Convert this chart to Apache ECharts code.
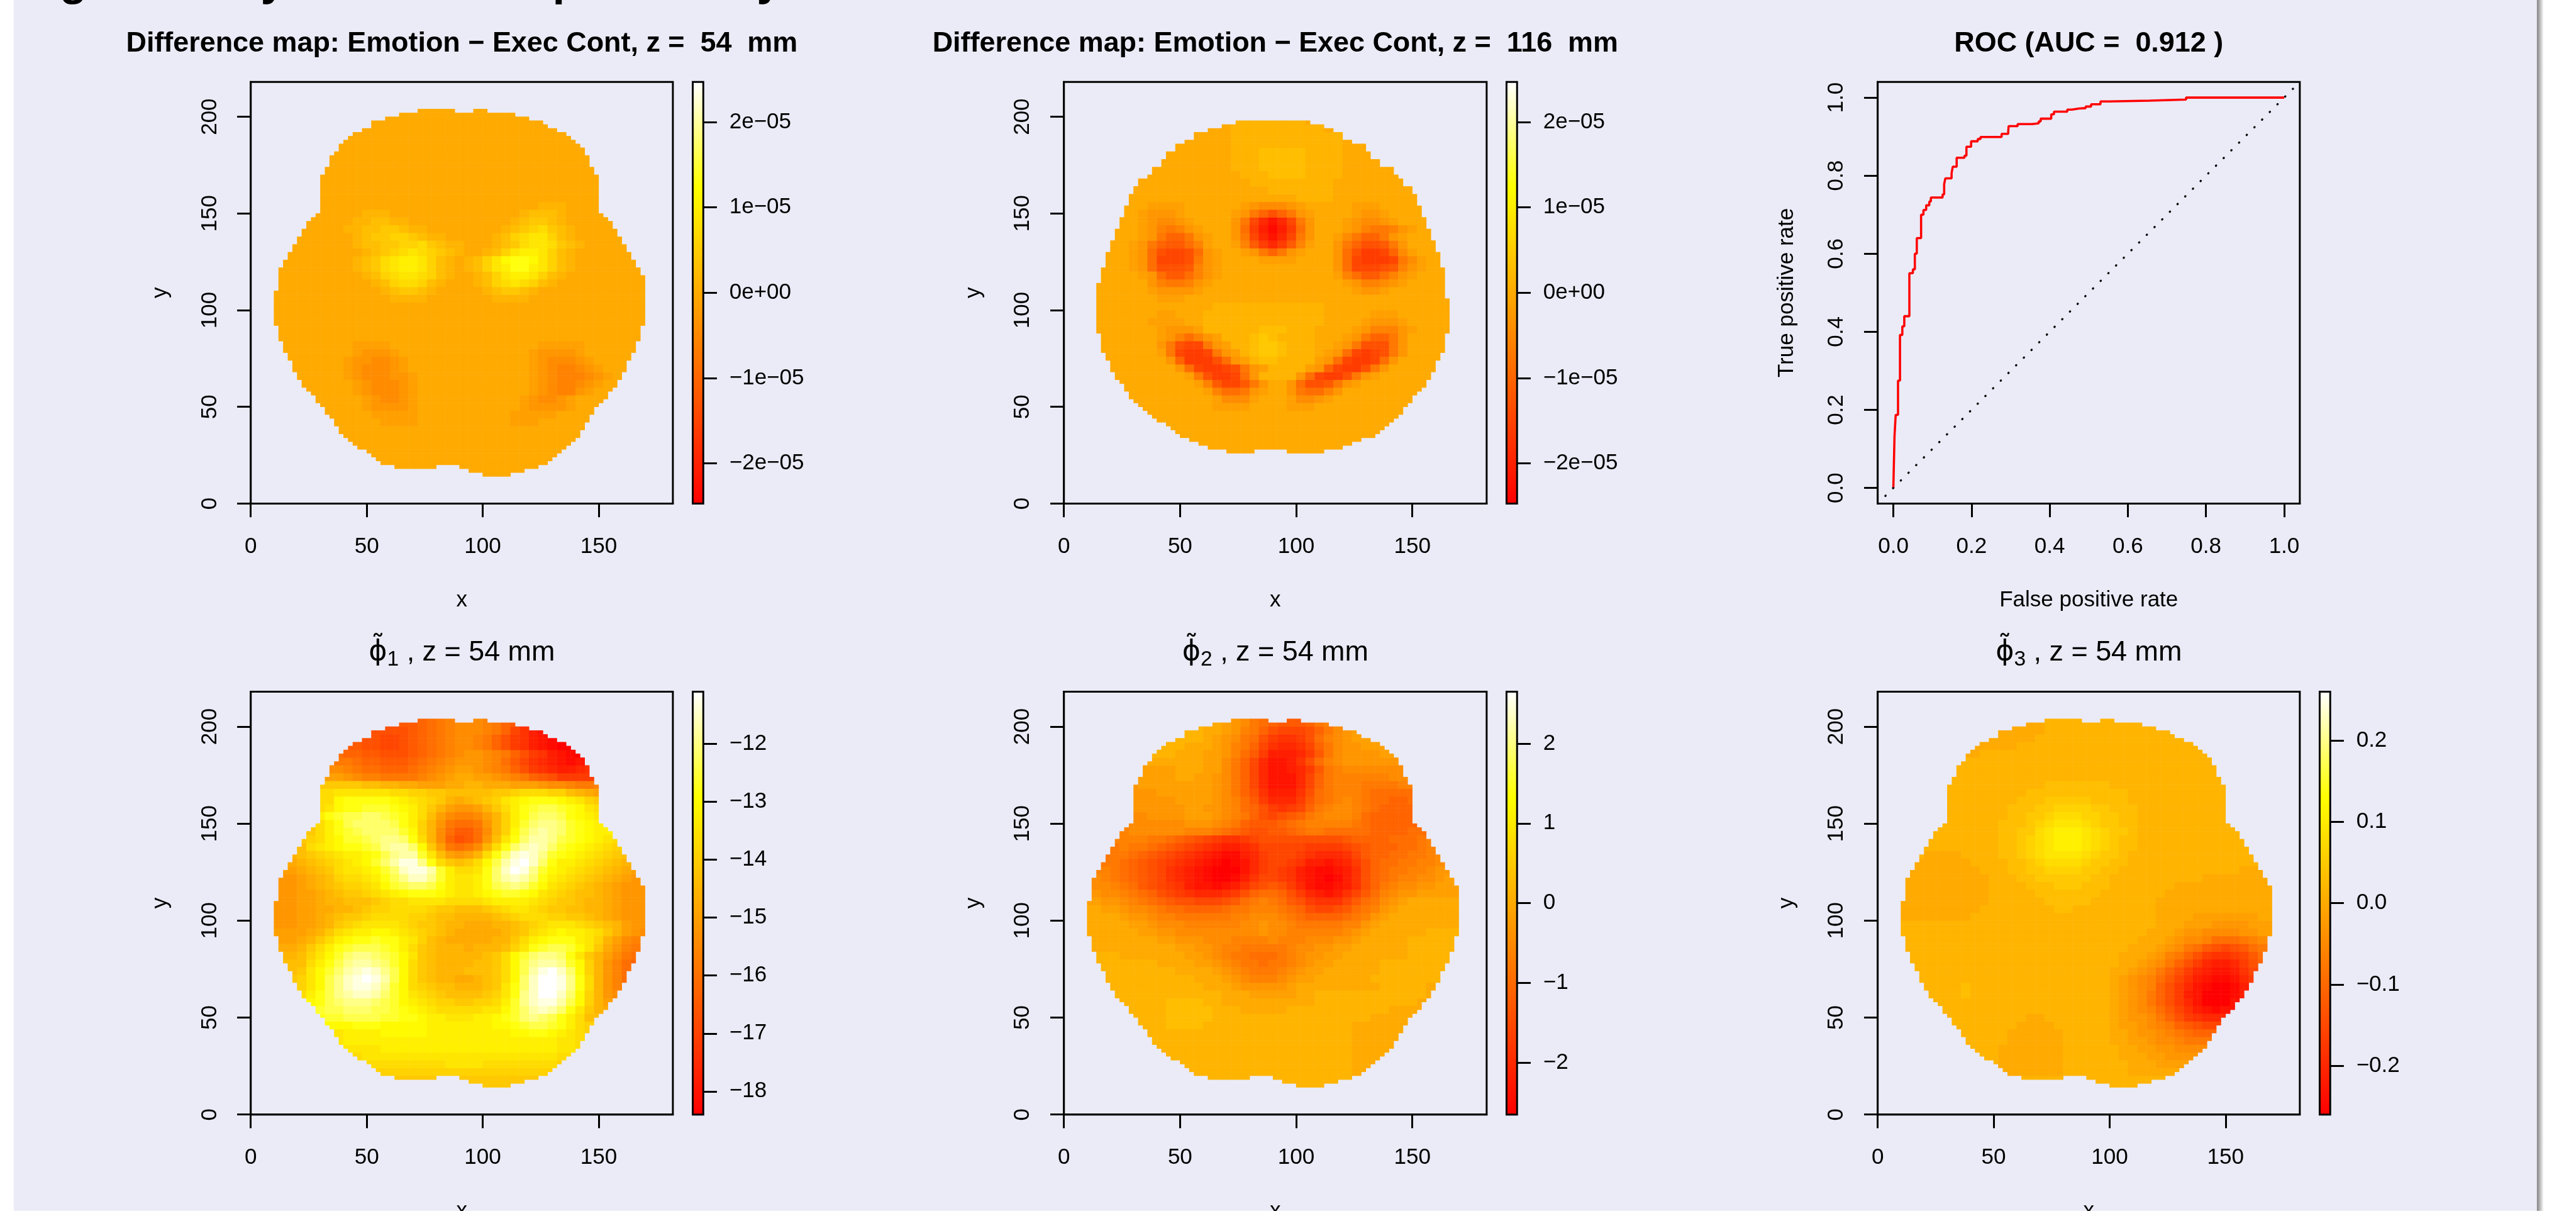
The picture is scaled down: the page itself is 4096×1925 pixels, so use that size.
<!DOCTYPE html>
<html><head><meta charset="utf-8">
<style>html,body{margin:0;padding:0;background:#fff}#c{width:4096px;height:1925px}</style>
<script src="https://cdn.jsdelivr.net/npm/echarts@6/dist/echarts.min.js"></script>
</head><body><div id="c"></div>
<script>
// ---- data: brain outlines, one entry per 2-unit row, [from,to,...] in x units
const brainRowsFromY = 14;
const brainSpans = [[100,112],[94,118],[62,80,90,124],[56,128],[54,130],[52,132],[50,134],[46,135],[44,138],[42,140],[40,142],[38,142],[38,144],[36,144],[36,146],[34,146],[32,148],[32,148],[30,150],[28,152],[28,154],[26,154],[24,156],[22,158],[22,158],[20,160],[20,160],[18,162],[18,162],[18,162],[16,164],[16,164],[14,166],[14,166],[14,166],[12,168],[12,168],[12,168],[12,168],[10,170],[10,170],[10,170],[10,170],[10,170],[10,170],[10,170],[10,170],[10,170],[12,170],[12,170],[12,170],[12,170],[12,168],[12,168],[14,166],[14,166],[16,164],[16,164],[18,162],[18,162],[20,160],[20,160],[22,158],[22,158],[24,156],[24,156],[26,154],[28,152],[30,150],[30,150],[30,150],[30,150],[30,150],[30,150],[30,150],[30,150],[30,150],[30,150],[32,148],[32,148],[34,146],[34,146],[34,146],[36,144],[38,144],[38,142],[40,140],[42,138],[44,136],[48,132],[52,128],[52,126],[58,120],[64,114],[72,88,96,102]];
const eggRowsFromY = 26;
const eggSpans = [[70,82,96,112],[62,120],[58,124],[54,128],[50,134],[48,136],[46,138],[44,140],[40,142],[38,144],[36,146],[34,146],[32,148],[30,150],[28,150],[28,152],[26,154],[26,156],[24,156],[22,158],[22,158],[20,160],[20,160],[20,160],[18,162],[18,162],[16,164],[16,164],[16,164],[16,164],[16,164],[14,166],[14,166],[14,166],[14,166],[14,166],[14,166],[14,166],[14,166],[14,166],[14,164],[14,164],[14,164],[14,164],[16,164],[16,164],[16,164],[16,164],[18,162],[18,162],[18,162],[18,162],[20,160],[20,160],[20,160],[22,158],[22,158],[22,158],[24,156],[24,156],[24,156],[26,154],[26,154],[26,154],[28,152],[28,152],[28,152],[30,150],[30,150],[32,146],[32,146],[36,144],[38,142],[38,142],[42,136],[42,136],[44,132],[44,132],[48,130],[48,130],[52,124],[56,120],[56,120],[62,116],[68,112],[74,106]];

// ---- data: colour levels (0 = bottom of the colour bar, y = top),
// rows from y=204 down to y=12 in steps of 4, columns from x=8 in steps of 4.
const rowsDiff54 = ["","","","","","","","","","","","","",
"hhhhhhhhhhhhhhhhhhhhhhhhhhhhhiii",
"hhhhhhhhhhiiihhhhhhhhhhhhhhijjji",
"hhhhhhhhhiijjiihhhhhhhhhhhijkkji",
"hhhhhhhhiijjkkjiihhhhhhhhijklmkji",
"hhhhhhhhhijkkllkjiihhhhhijlmnnlji",
"hhhhhhhhhijjkkllmkjiihhhijkmnnmkji",
"hhhhhhhhhhijklmnmlkjihhijlnoonlji",
"hhhhhhhhhijkmnoonljihijlnpqqpnlji",
"hhhhhhhhhijkmnoonljihijlnoqqonlji",
"hhhhhhhhhhijlmnnmljihhijlnoonlji",
"hhhhhhhhhhhijlmmljihhhijlmnmlji",
"hhhhhhhhhhhhijkkjihhhhhijkkji",
"hhhhhhhhhhhhhiiiihhhhhhhiiii",
"","","","","",
"hhhhhhhhhgggghhhhhhhhhhhhhhhhgggggh",
"hhhhhhhhhgfffghhhhhhhhhhhhhhgffffg",
"hhhhhhhhgffeefghhhhhhhhhhhhhgfeeefg",
"hhhhhhhhgfeeefghhhhhhhhhhhhhgfeddefg",
"hhhhhhhhgfeeeffghhhhhhhhhhhhgfedddefg",
"hhhhhhhhhgfeeefghhhhhhhhhhhhgfeddefg",
"hhhhhhhhhgfeeefghhhhhhhhhhhhgfeddfg",
"hhhhhhhhhhgfeefghhhhhhhhhhhgfeefg",
"hhhhhhhhhhgffffghhhhhhhhhhhgffffg",
"hhhhhhhhhhhggggghhhhhhhhhhggggg",
"hhhhhhhhhhhhgggghhhhhhhhhhggg",
"","","","","","","",""];

const rowsDiff116 = ["","",
"hhhhhhhhhhhhhhhhiiiiiiii",
"hhhhhhhhhhhhhhhhiiiiiiiiii",
"hhhhhhhhhhhhhhhhiiiiiiiiiiii",
"hhhhhhhhhhhhhhhhiiiiiiiiiiii",
"hhhhhhhhhhhhhhhhiiijjjjjiiii",
"hhhhhhhhhhhhhhhhiiijjjjjiiii",
"hhhhhhhhhhhhhhhhiiijjjjjiiii",
"hhhhhhhhhhhhhhhhhiiijjjjiiii",
"hhhhhhhhhhhhhhhhhhiiiiiiiii",
"hhhhhhhhhhhhhhhhhhhhiiiiiii",
"hhhhhhhhhhhhhhhhhhhhhhhiiii",
"hhhhhhhgggghhhhhhgfeeefghhhhhggg",
"hhhhhhgfffghhhhhgfca8acfghhhhgffg",
"hhhhhhgfeefghhhhfc74247cfhhhgfeefg",
"hhhhhhgfdcdfghhhfb63136bfhhhgfdccdfg",
"hhhhhhgfcaacfghhfc74247cfhhgecaacfg",
"hhhhhgfca99bdghhgd96469dghhfca889cf",
"hhhhhgfb8778bfghhgfcacfghhhfb8667aeg",
"hhhhhgfb7778cfghhhhgggghhhhfb76667ceg",
"hhhhhgfb8889dfghhhhhhhhhhhhfb77789dfg",
"hhhhhhgfb99bdfghhhhhhhhhhhhgdb99bdfg",
"hhhhhhhfdccdfghhhhhhhhhhhhhhgfddefg",
"hhhhhhhgffffghhhhhhhhhhhhhhhhgffg",
"hhhhhhhhggg",
"hhhhhhhhhhhhhhiiiiiiiiiiiihhhh",
"hhhhhhhhgghhhiiiiiiiiiiiiihhhhhggg",
"hhhhhhhgggghhiiiiiiiiiiiiihhhhgfffg",
"hhhhhhhhgfffgiiiiiijjjiiihhhhgfdddfg",
"hhhhhhhhgfdbdfgiiijkjiiiihhhgfcaacf",
"hhhhhhhhfc877cfgiijkkjiiihhgfc888cf",
"hhhhhhhhgc7667cfgijkkjiiihgfb7678cf",
"hhhhhhhhhfa6668bfgijjiiiigfb7667bf",
"hhhhhhhhhhfb76678cfgiiiigfa7668cf",
"hhhhhhhhhhhgc8667bfiiiifb7668cfg",
"hhhhhhhhhhhhgd9779cfhhfb889cfg",
"hhhhhhhhhhhhhgdbbcfghhfcbbdf",
"hhhhhhhhhhhhhhgeeeghhhgeefg",
"hhhhhhhhhhhhhhgggghhhhggg",
"","","","","","","","",""];

const rowsPhi1 = [
"bbbbbbbbbbbbbbbbcccdeeedcba98765432222222",
"9999999999999999abcdeeedca97542222222222",
"9999999999888889abcdeeedca7532100111111111",
"9999999999887789abcdeedca8653210012333333",
"aaaaaaaa99887789abcdeedca8653210012333333",
"bbbbbbbbaa998889abcdeffedca86532101234444",
"cccccccccbaa999abcdefffedb975432123455555",
"eeeeeeeedcbbaaabcdefggfedca86543345666666",
"ggggggggfeddccccdefghhggfedca986666788888",
"kkkkkkkkkkjjiihhggghhiihhhgggfeedccdccccc",
"mmmmmmmnnnnnnmmllkkjjjjjkklmmmlljihgggggg",
"mmmmmmmpqqqqqponmlkihijklnopqqqponlkkkkkk",
"mmmmmmnpqqrrrqpomkigffgikmoqrssrqpnmmmmmm",
"mmmmnoqrssttsrqomjgeddegiloqsttsqponnnnnn",
"lllllmoqsttttsqolifcbbcfilortuutrqpoooooo",
"kkkkkmoqrsttttrplieb99beilpsuvutrqpoooooo",
"jjjklmoprrstuutqmiea89bfjnqtvvusrqponmmmm",
"jjjjmnopqqrsuvvtpkgcbceimqtvwvtrqponmllkk",
"iiijklmnoopqsuvvrnjgfgimqtwxwurqponmlkjjj",
"hhhijklmnoprtvxxuqmkjkmpsvxywtqoonmlkjiii",
"ggghijkmnnoprtwxxvrommnqtwyxurponmlkjihgg",
"fffghijlmmnoqsuwwuronnoqtvwvtqonmlkjihgff",
"fffghijkllmnprsttsqonnoqstutrpnmlkjihgfff",
"fffgghijkklmnopqqqponnopqrrqpnmlkjjihgfff",
"fffgghiijjjklmmnnnnmmmmnoooonmlkkjiihgfff",
"fffgghhiijkllmmmmlkkjjjklmnnmlkkjjiihgfff",
"fffgghijkklmmmmllkjjiiiijklmmmllkkjihgfff",
"fffgghiklmnnnnmlkkjiihhhiijklmnnnmlkjigff",
"gggghikmnoopponmlkjihhhhhijkmnopoonmkigfe",
"ggghikmopqqrqqonljihhhhhiikmopqqqonligedd",
"hhhikmoqrsssrqomkjiiihiiijlnqrssrpnkhfdcc",
"iiijlnprtuutsrpnkjiiiiijkmprtuutqnkigecbb",
"jjjjmoqsuvvutrpmkjiiiijjkmpsuvvurplifdbaa",
"jjjknprtvwxwuspmkjiiijjjkmpsvxywtplifdbaa",
"kkklnpsuwxyxvspmkjiihhijkmptwyyxuqmifdbaa",
"kkklnpsuwxxwurpmlkjjiiijknqtwyyxuqmifdbbb",
"lllmoqsuvwwvtrpnmlkjjjjklnquwyywtplifeddd",
"nnnnpqstuuutsrponmllkkllmoruwxxvspliggggg",
"ooooprsstttssrqponmmmmmnnprtvwvtqnkihhhhh",
"pppppqrrssssrrqqpoonnnoopqrtutsqomjjjjjjj",
"oooooopppqqqpppppoooooooppqrssrqomlllllll",
"nnnnnnnnoooopppppoooooooooppqqponmlllllll",
"nnnnnnnnooooooooooooooooooooooonnmlllllll",
"mmmmmmmmnnnnooooooooooooooooooonnmlkkkkkk",
"mmmmmmmmmmnnnnnnnnnnnnnnnnnnnnnmmlkkkkkkk",
"lllllllllmmmmmmmmmmnnnnmmmmmmmmlllllllll",
"kkkkkkkkklllllllllllllllllllllllllllllll",
"kkkkkkkkkkkkkkkkkkkkkkkkkkkkkkkkkkkkkkkkk",
"kkkkkkkkkkkkkkkkkkkkkkkkkkkkkkkkkkkkkkkkk"];

const rowsPhi2 = [
"iiiiiiiiiiiiihhgfedcbbbbcdeffgggghhhhhhhh",
"iiiiiiiiiiiiihhgfecba999acdefggggghhhhhhh",
"iiiiiiiiiiiiihhgfdca87778acefggggghhhhhhh",
"iiiiiiiiiiiiihgfecb865568bdefggggghhhhhhh",
"iiiiiiiiiiihhhgfdca754457aceffgggghhhhhhh",
"hhhhhhiiiihhhggfdb96333469ceffffggggggggg",
"hhhhhhhhhhhhhggeca7422358bdeffffffggggggg",
"gggggggggghhhggeca74223469cdeeeeeeefffggg",
"ffffffgggghhggfeca7422247acddddddeeeeffgg",
"ffffffggggggggfeca7422247acdddccccdddefgg",
"ffffffffggggggfeca8533358bcdddcbbbbbcdefg",
"eeefffffffggggfedb9644469bcdedcbbaabbcdfg",
"eeeefffffffggffedba86567acdeedcbaaaabcdeg",
"eeeeeeeffffgggfedca8789acdeeedbaaaaabcdef",
"dddeeeeeeeefffedca999abcdddddcbaaaaabcdef",
"ccdddeeeeeedddcba98899abccbbbbbaaaabbcdef",
"cccddddccba987655678888888889aaaabbbcdeff",
"ccccdccba98765433457777766667" + "89aaabbcdeff",
"cccccba98765432" + "11346777654445" + "79aabbccdeff",
"ddccba987654321" + "01246776533234" + "68abbccddeff",
"eddcba987543210" + "00246765321123" + "58abccddeffg",
"eedcba987543210" + "01357765321013" + "58abcddeefgg",
"feedcb987653221" + "23578986421123" + "58acdeeffggg",
"ffeedcba8765444" + "568abba8643235" + "79bdeffggggg",
"ggffedcba988777" + "89bcdcb9865557" + "9bcefghhhhhh",
"hhggfeedcbbaaaa" + "bccdddcba87789" + "bcdfghhhhhhh",
"hhhhgffeddccccc" + "cddeeedcbaaaab" + "cdfghhhhhhhh",
"hhhhhggfeeedddd" + "ddeefeedcccccd" + "dfghhhhhhhhh",
"hhhhhhggffeeeee" + "eeeefeedddddde" + "fghhhhhhiiii",
"hhhhhhhhggfffee" + "eddddedddeeeff" + "ghhhhhiiiiii",
"hhhhhhhhhhggffe" + "ddcccccdeeffgg" + "hhhhhhiiiiii",
"iiiihhhhhhhggfe" + "dccbbbcdeffggh" + "hhhhhhiiiiii",
"iiiiiiiihhhhggf" + "edccbccdefgghh" + "hhhiiiiiiiii",
"iiiiiiiiiihhhhg" + "fedcccdefgghhh" + "hhhiiiiiiiii",
"iiiiiiiiiiiihhh" + "gfedddefgghhhh" + "hhiiiiiiiiii",
"iiiiiiiiiiiiihh" + "hgfffffghhhhhh" + "hhhiiiiihhhh",
"iiiiiiiiiiiiiii" + "hhhggggghhiiii" + "iiiiiiiihhhh",
"iiiiiiiiijjjjii" + "hhhhhhhhhhiiii" + "iiiiiiihhhhh",
"iiiiiiiiijjjjji" + "iihhhhhiiiiiii" + "iiiihhhhhhhh",
"iiiiiiiiijjjjji" + "iiiiiiiiiiiiii" + "iihhhhhhhhhh",
"iiiiiiiiijjjjii" + "iiiiiiiiiiiiii" + "hhhhhhhhhhhh",
"iiiiiiiiiiiiiii" + "iiiiiiiiiiiiii" + "hhhhhhhhhhhh",
"iiiiiiiiiiiiiii" + "iiiiiiiiiiiiii" + "hhhhhhhhhhhh",
"iiiiiiiiiiiiiii" + "iiiiiiiiiiiiii" + "hhhhhhhhhhhh",
"iiiiiiiiiiiiiii" + "iiiiiiiiiiiiii" + "hhhhhhhhhhhh",
"iiiiiiiiiiiiiii" + "iiiiiiiiiiiiii" + "hhhhhhhhhhhh",
"iiiiiiiiiiiiiii" + "iiiiiiiiiiiiii" + "hhhhhhhhhhhh",
"iiiiiiiiiiiiiii" + "iiiiiiiiiiiiii" + "hhhhhhhhhhhh",
"iiiiiiiiiiiiiii" + "iiiiiiiiiiiiii" + "hhhhhhhhhhhh"];

const rowsPhi3 = ["",
"iiiiiiiiiiiihhhh",
"iiiiiiiiiihhhhhh",
"iiiiiiiihhhhhhh",
"iiiiiihhhhhhh",
"iiiiiihhh",
"","","",
"iiiiiiiiiiiiiiiijjjjjjj",
"iiiiiiiiiiiiiijjjjjjjjjjj",
"iiiiiiiiiiiiijjjkkkkkjjjj",
"iiiiiiiiiiiijjjkkllllkkjjj",
"iiiiiiiiiiiijjkklmmmllkkjj",
"iiiiiiiiiiijjjklmnnnmlkkjj",
"iiiiiiiiiiijjkkmnooonmlkkj",
"iiiiiiiiiiijjklmnooonmlkjj",
"iiiiiiiiiiijjklmnooonmlkjj",
"iiihhhhiiiijjklmnnnnmlkkj",
"iihhhhhhiiiijjklmmmmlkkjj",
"hhhhhhhhhiiijjkkllllkkjjiiiiiiiiiiiiihhhhh",
"hhhhhhhhhhiiijjkkkkkkjjiiiiiiiiiihhhhhhhh",
"hhhhhhhhhhiiiijjjkkkjjjiiiiiiihhhhhhhhhhh",
"hhhhhhhhhhiiiiijjjjjjjiiiiiiihhhhhhhhhhhh",
"hhhhhhhhhhiiiiiijjjjjiiiiiiihhhhhhhhhhhhh",
"hhhhhhhhhiiiiiiiijjiiiiiiiiihhhhhhhhhhhhh",
"hhhhhhhhiiiiiiiiiiiiiiiiiiiihhhhggggggghh",
"iiiiiiiiiiiiiiiiiiiiiiiiiiiihhhgggffffggg",
"iiiiiiiiiiiiiiiiiiiiiiiiiiihhhgffeeeeffgg",
"iiiiiiiiiiiiiiiiiiiiiiiiiihhhgfeedbbbcdee",
"iiiiiiiiiiiiiiiiiiiiiiiiihhhgfecb98789bcc",
"iiiiiiiiiiiiiiiiiiiiiiiihhhgfdca8655679bb",
"iiiiiiiiiiiiiiiiiiiiiiiihhgfeca86433468aa",
"iiiiiiiiiiiiiiiiiiiiiiihhgfeca864322357aa",
"iiiiiiiiiiiiiiiiiiiiiiihgfedb9753211246aa",
"iiiiiiijiiiiiiiiiiiiiiihgfeda8642100135aa",
"iiiiiiijiiiiiiiiiiiiiiihgfeca8632000135aa",
"iiiiiiiiiiiiiiiiiiiiiiihgfeca864200022222",
"iiiiiiiiiiiiiiiiiiiiiiihgfedb975321222222",
"iiiiiiiiiiiiiihhiiiiiiihgffeca86544444444",
"iiiiiiiiiiiiihhhhiiiiiihggfedca9877777777",
"iiiiiiiiiiiihhhhhhiiiiihhgffedcbaaaaaaaaa",
"iiiiiiiiiiiihhhhhhiiiiihhggfeedcccccccccc",
"iiiiiiiiiiihhhhhhhiiiiiihhggffeeeeeeeeeee",
"iiiiiiiiiiihhhhhhhiiiiiihhhggffffffffffff",
"iiiiiiiiiiihhhhhhhiiiiiiihhhgggggggggggg",
"iiiiiiiiiiihhhhhhhiiiiiiihhhhhhhhhhhhhhhh",
"","",""];

// ---- data: ROC curve corners and colour-bar ticks
const rocFpr = [0,0.003,0.006,0.012,0.017,0.023,0.028,0.041,0.05,0.055,0.06,0.071,0.077,0.084,0.092,0.096,0.126,0.13,0.133,0.149,0.152,0.162,0.182,0.187,0.199,0.216,0.223,0.277,0.294,0.295,0.318,0.355,0.372,0.377,0.404,0.411,0.445,0.457,0.475,0.492,0.506,0.53,0.553,0.655,0.658,0.749,1];
const rocTpr = [0,0.133,0.187,0.275,0.392,0.414,0.44,0.55,0.56,0.6,0.64,0.7,0.712,0.724,0.734,0.744,0.752,0.778,0.793,0.806,0.823,0.846,0.851,0.874,0.888,0.894,0.899,0.907,0.914,0.927,0.932,0.934,0.939,0.946,0.957,0.964,0.969,0.972,0.973,0.977,0.983,0.99,0.992,0.993,0.995,1,1];
const xTicks = [0,50,100,150], yTicks = [0,50,100,150,200], rocTicks = [0,0.2,0.4,0.6,0.8,1];
const diffTicks = [-2e-5,-1e-5,0,1e-5,2e-5], diffLabels = ['\u22122e\u221205','\u22121e\u221205','0e+00','1e\u221205','2e\u221205'];
const phi1Ticks = [-18,-17,-16,-15,-14,-13,-12], phi1Labels = ['\u221218','\u221217','\u221216','\u221215','\u221214','\u221213','\u221212'];
const phi2Ticks = [-2,-1,0,1,2], phi2Labels = ['\u22122','\u22121','0','1','2'];
const phi3Ticks = [-0.2,-0.1,0,0.1,0.2], phi3Labels = ['\u22120.2','\u22120.1','0.0','0.1','0.2'];

// ---- layout (reference pixels, scaled by S)
const S = 0.987, FONT = '"Liberation Sans",Arial,sans-serif';
const s = v => v * S;
const HEAT = ['#FF0000','#FF5500','#FFAA00','#FFFF00','#FFFFFF'];
const row1 = {top:132,bottom:811,titleY:71}, row2 = {top:1114,bottom:1795,titleY:1051};
const colA = {left:404,right:1084,barL:1116,barR:1133}, colB = {left:1714,right:2395,barL:2427,barR:2444}, colC = {left:3025,right:3705,barL:3737,barR:3754};
const phiTitle = n => '{p|\u03D5\u0303}{b|'+n+'}{t| , z = 54 mm}';
const maps = [
 {r:row1,c:colA,rows:rowsDiff54,spans:brainSpans,from:brainRowsFromY,base:'h',min:-2.47e-5,max:2.47e-5,ticks:diffTicks,labels:diffLabels,title:'Difference map: Emotion \u2212 Exec Cont, z =  54  mm',bold:true},
 {r:row1,c:colB,rows:rowsDiff116,spans:eggSpans,from:eggRowsFromY,base:'h',min:-2.47e-5,max:2.47e-5,ticks:diffTicks,labels:diffLabels,title:'Difference map: Emotion \u2212 Exec Cont, z =  116  mm',bold:true},
 {r:row2,c:colA,rows:rowsPhi1,spans:brainSpans,from:brainRowsFromY,base:'h',min:-18.4,max:-11.1,ticks:phi1Ticks,labels:phi1Labels,title:phiTitle(1)},
 {r:row2,c:colB,rows:rowsPhi2,spans:brainSpans,from:brainRowsFromY,base:'i',min:-2.65,max:2.65,ticks:phi2Ticks,labels:phi2Labels,title:phiTitle(2)},
 {r:row2,c:colC,rows:rowsPhi3,spans:brainSpans,from:brainRowsFromY,base:'i',min:-0.26,max:0.26,ticks:phi3Ticks,labels:phi3Labels,title:phiTitle(3)}
];
const XMAX = 182, YMAX = 218, CELL = 2, COARSE = 4, NCOL = 41;

const grid = [], xAxis = [], yAxis = [], series = [], visualMap = [], title = [];
const txt = {color:'#000',fontFamily:FONT,fontSize:s(35.5)};
function rect(c, r, L, R){ return {left:s(L===undefined?c.left:L),width:s((R===undefined?c.right:R)-(L===undefined?c.left:L)),top:s(r.top),height:s(r.bottom-r.top),outerBoundsMode:'none',containLabel:false}; }
function valueAxis(pos, min, max, ticks, fmt, gridIndex, name, rotate, nameGap){
  const margin = pos==='right'?42:(pos==='bottom'?52:48);
  return {type:'value',gridIndex,position:pos,min,max,name,nameLocation:'middle',nameGap:s(nameGap||0),
    nameTextStyle:{...txt},splitLine:{show:false},
    axisLine:{show:true,onZero:false,lineStyle:{color:'#000',width:s(3)}},
    axisTick:{show:true,length:s(22),lineStyle:{color:'#000',width:s(3)},customValues:ticks},
    axisLabel:{...txt,rotate:rotate||0,margin:s(margin),customValues:ticks,formatter:fmt,showMinLabel:true,showMaxLabel:true}};
}
function hiddenValueAxis(gridIndex,min,max){return {type:'value',gridIndex,min,max,show:false};}
function addTitle(text,c,r,bold){
  title.push({text,left:s((c.left+c.right)/2),top:s(r.titleY),textAlign:'center',textVerticalAlign:'middle',padding:0,
    textStyle:{color:'#000',fontFamily:FONT,fontWeight:bold?'bold':'normal',fontSize:s(45.5),
      rich:{p:{fontFamily:'"DejaVu Sans"',fontSize:s(45),lineHeight:s(58),color:'#000'},
            b:{fontFamily:FONT,fontSize:s(34),verticalAlign:'bottom',color:'#000'},
            t:{fontFamily:FONT,fontSize:s(45.5),color:'#000'}}}});
}
const level = ch => parseInt(ch,36);

maps.forEach(m => {
  const seriesIndex = series.length;
  // heat cells on hidden category axes
  const g0 = grid.length;
  grid.push({...rect(m.c,m.r),show:false});
  const xCats = Array.from({length:XMAX/CELL},(_,i)=>i), yCats = Array.from({length:YMAX/CELL},(_,i)=>i);
  xAxis.push({type:'category',gridIndex:g0,data:xCats,show:false});
  yAxis.push({type:'category',gridIndex:g0,data:yCats,show:false});
  const data = [];
  m.spans.forEach((sp,k) => {
    const y = m.from + k*CELL;
    const ri = Math.ceil((204-y)/COARSE);
    const line = (m.rows[ri]||'').padEnd(NCOL,m.base);
    for(let j=0;j<sp.length;j+=2) for(let x=sp[j];x<sp[j+1];x+=CELL){
      const ci = Math.min(NCOL-1,Math.max(0,Math.floor((x-8)/COARSE)));
      const v = m.min + level(line[ci])/34*(m.max-m.min);
      data.push([x/CELL,y/CELL,v]);
    }
  });
  series.push({type:'heatmap',xAxisIndex:g0,yAxisIndex:g0,data,progressive:0,emphasis:{disabled:true},silent:true,animation:false});
  visualMap.push({type:'continuous',seriesIndex,dimension:2,min:m.min,max:m.max,inRange:{color:HEAT},calculable:false,hoverLink:false,
    orient:'vertical',left:s(m.c.barL),top:s(m.r.top),itemWidth:s(m.c.barR-m.c.barL),itemHeight:s(m.r.bottom-m.r.top),padding:0,text:null,showLabel:false,z:3,textStyle:{fontSize:1,color:'transparent'}});
  // visible axes
  const g1 = grid.length;
  grid.push({...rect(m.c,m.r),show:true,borderColor:'#000',borderWidth:s(3),backgroundColor:'transparent',z:5});
  xAxis.push(valueAxis('bottom',0,XMAX,xTicks,v=>String(v),g1,'x',0,138));
  yAxis.push(valueAxis('left',0,YMAX,yTicks,v=>String(v),g1,'y',90,128));
  // colour bar frame, ticks, labels
  const g2 = grid.length;
  grid.push({...rect(m.c,m.r,m.c.barL,m.c.barR),show:true,borderColor:'#000',borderWidth:s(3),backgroundColor:'transparent',z:6});
  xAxis.push(hiddenValueAxis(g2,0,1));
  const ya = valueAxis('right',m.min,m.max,m.ticks,v=>{const i=m.ticks.findIndex(t=>Math.abs(t-v)<1e-9);return i<0?'':m.labels[i];},g2,'',0,0);
  ya.axisLine.show = false;
  yAxis.push(ya);
  addTitle(m.title,m.c,m.r,m.bold);
});

// ROC panel
{
  const g = grid.length;
  grid.push({...rect(colC,row1),show:true,borderColor:'#000',borderWidth:s(3),backgroundColor:'transparent'});
  const f = v=>v.toFixed(1);
  xAxis.push(valueAxis('bottom',-0.04,1.04,rocTicks,f,g,'False positive rate',0,138));
  yAxis.push(valueAxis('left',-0.04,1.04,rocTicks,f,g,'True positive rate',90,128));
  series.push({type:'line',xAxisIndex:g,yAxisIndex:g,data:rocFpr.map((x,i)=>[x,rocTpr[i]]),step:'end',symbol:'none',silent:true,animation:false,
    lineStyle:{color:'#FF0000',width:s(3.6)}});
  series.push({type:'line',xAxisIndex:g,yAxisIndex:g,data:[[-0.04,-0.04],[1.04,1.04]],symbol:'none',silent:true,animation:false,
    lineStyle:{color:'#000',width:s(3.4),type:[s(0.5),s(17)],cap:'round'}});
  addTitle('ROC (AUC =  0.912 )',colC,row1,true);
}

// page frame and the clipped heading's descenders
const heading = [['g',118],['y',440],['p',912],['y',1239]];
const graphic = [
 {type:'rect',z:-10,shape:{x:s(22),y:0,width:s(4087-22),height:s(1950)},style:{fill:'#EBEBF7'}},
 {type:'rect',z:-10,shape:{x:s(4087),y:0,width:s(11),height:s(1950)},style:{fill:{type:'linear',x:0,y:0,x2:1,y2:0,colorStops:[{offset:0,color:'#808080'},{offset:1,color:'#FFFFFF'}]}}},
 ...heading.map(h=>({type:'text',z:-5,x:s(h[1]),y:s(8),style:{text:h[0],fill:'#000',align:'center',verticalAlign:'bottom',font:'bold '+s(72)+'px '+FONT}}))
];

const chart = echarts.init(document.getElementById('c'),null,{renderer:'canvas',width:4096,height:1925});
chart.setOption({animation:false,backgroundColor:'#FFFFFF',grid,xAxis,yAxis,series,visualMap,title,graphic});
</script></body></html>
